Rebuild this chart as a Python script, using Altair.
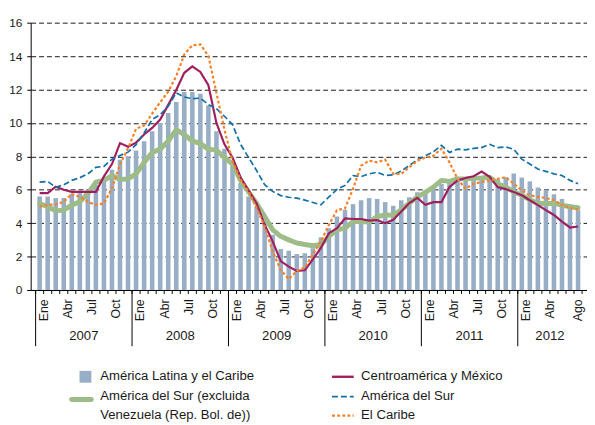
import altair as alt
import pandas as pd

# ---------------- data ----------------
months_es = ['Ene', 'Feb', 'Mar', 'Abr', 'May', 'Jun', 'Jul', 'Ago', 'Sep', 'Oct', 'Nov', 'Dic']
years = ['2007', '2008', '2009', '2010', '2011', '2012']

name_alc = 'América Latina y el Caribe'
name_cam = 'Centroamérica y México'
name_adsx = 'América del Sur (excluida Venezuela (Rep. Bol. de))'
name_ads = 'América del Sur'
name_car = 'El Caribe'

# América Latina y el Caribe (bars), Jan 2007 - Aug 2012
alc = [5.6, 5.6, 5.5, 5.5, 5.75, 5.8, 6.0, 6.3, 6.6, 7.2, 7.8, 8.0,
       8.35, 8.9, 9.5, 10.0, 10.6, 11.25, 11.85, 11.85, 11.75, 11.05, 9.5, 8.45,
       7.5, 6.4, 5.6, 5.0, 4.1, 3.3, 2.45, 2.35, 2.15, 2.2, 2.5, 3.15,
       3.7, 4.4, 4.8, 5.14, 5.37, 5.5, 5.45, 5.26, 5.04, 5.37, 5.55, 5.85,
       5.96, 6.2, 6.36, 6.45, 6.55, 6.65, 6.7, 6.8, 6.7, 6.6, 6.75, 6.97,
       6.73, 6.5, 6.14, 5.98, 5.73, 5.45, 5.12, 4.78]

# Centroamérica y México
cam = [5.8, 5.8, 6.18, 6.0, 5.87, 5.87, 5.87, 5.87, 6.8, 7.54, 8.79, 8.57,
       8.82, 9.31, 9.7, 10.2, 11.08, 11.97, 13.0, 13.39, 13.05, 12.26, 10.0, 8.72,
       7.93, 6.75, 5.96, 5.18, 3.9, 2.91, 1.73, 1.4, 1.14, 1.18, 1.83, 2.52,
       3.4, 3.7, 4.29, 4.25, 4.25, 4.15, 4.19, 4.0, 4.2, 4.7, 5.2, 5.51,
       5.1, 5.26, 5.26, 6.16, 6.56, 6.7, 6.81, 7.09, 6.77, 6.16, 6.04, 5.87,
       5.67, 5.37, 5.08, 4.78, 4.49, 4.09, 3.74, 3.8]

# América del Sur
ads = [6.46, 6.5, 6.14, 6.3, 6.56, 6.72, 6.95, 7.34, 7.4, 7.83, 8.05, 8.25,
       8.7, 9.4, 10.2, 10.5, 11.0, 11.8, 11.55, 11.45, 11.48, 11.1, 10.85, 10.4,
       9.9, 8.72, 7.93, 7.15, 6.3, 5.9, 5.65, 5.55, 5.5, 5.38, 5.24, 5.1,
       5.57, 6.02, 6.26, 6.85, 6.79, 6.95, 7.05, 6.85, 6.89, 7.12, 7.45, 7.8,
       8.03, 8.27, 8.66, 8.23, 8.43, 8.39, 8.48, 8.52, 8.72, 8.52, 8.56, 8.43,
       7.83, 7.54, 7.24, 7.1, 6.95, 6.85, 6.56, 6.36]

# América del Sur (excluida Venezuela)
adsx = [5.18, 4.98, 4.74, 4.78, 5.08, 5.28, 5.77, 6.46, 6.56, 6.85, 6.61, 6.65,
        6.95, 7.64, 8.23, 8.43, 8.92, 9.6, 9.3, 8.92, 8.76, 8.43, 8.37, 7.93,
        7.54, 6.56, 5.87, 5.18, 4.39, 3.6, 3.21, 3.0, 2.81, 2.72, 2.65, 2.72,
        3.21, 3.6, 3.7, 4.09, 4.09, 4.06, 4.39, 4.49, 4.48, 4.8, 5.2, 5.57,
        5.83, 6.16, 6.56, 6.5, 6.65, 6.65, 6.69, 6.71, 6.75, 6.36, 6.16, 5.87,
        5.67, 5.41, 5.18, 5.18, 5.18, 5.08, 4.98, 4.92]

# El Caribe
car = [4.98, 5.1, 5.12, 5.28, 5.75, 5.57, 5.28, 5.1, 5.18, 6.1, 7.5, 8.48,
       9.65, 9.85, 10.55, 11.23, 11.87, 12.8, 14.1, 14.65, 14.7, 14.0, 11.8, 9.6,
       7.7, 6.6, 5.9, 4.9, 3.8, 2.3, 1.2, 0.65, 1.14, 1.34, 2.13, 2.91,
       3.9, 4.78, 4.88, 6.06, 7.44, 7.74, 7.64, 7.8, 6.95, 6.95, 7.34, 7.74,
       7.93, 8.03, 8.46, 7.64, 6.65, 6.06, 6.36, 6.46, 6.56, 6.65, 6.75, 6.36,
       5.96, 5.67, 5.57, 5.51, 5.37, 5.08, 4.92, 4.82]

y_ticks = [0, 2, 4, 6, 8, 10, 12, 14, 16]

# ---------------- derived tables ----------------
n = len(alc)
df = pd.DataFrame({'i': list(range(n)), 'alc': alc, 'cam': cam, 'ads': ads,
                   'adsx': adsx, 'car': car})

starts = [12 * k for k in range(len(years))]
ends = [min(s + 11, n - 1) for s in starts]
years_df = pd.DataFrame({'year': years,
                         'mid': [(s + e) / 2 for s, e in zip(starts, ends)],
                         'sep': [s - 0.5 for s in starts]})
ticks_df = pd.DataFrame({'b': [i - 0.5 for i in range(n + 1)]})

label_vals = [m for m in range(n) if m % 3 == 0 and m < starts[-1]] + [starts[-1], starts[-1] + 3, n - 1]
month_expr = "[" + ",".join("'%s'" % m for m in months_es) + "][datum.value % 12]"

# ---------------- styling ----------------
W, H = 564, 271
FONT = 'Liberation Sans'
TXT = '#1a1a1a'
C_BAR = '#97AEC6'
C_CAM = '#A0205F'
C_ADS = '#1170A8'
C_ADSX = '#9DBC87'
C_CAR = '#F5822A'

xscale = alt.Scale(domain=[-0.5, n - 0.5], nice=False, zero=False)
yscale = alt.Scale(domain=[0, 16], nice=False, zero=True)

xaxis = alt.Axis(values=label_vals, labelExpr=month_expr, labelAngle=270,
                 labelAlign='right', labelBaseline='middle', labelPadding=9,
                 labelOffset={'condition': {'test': 'datum.value == %d' % (n - 1), 'value': -1}, 'value': 4},
                 ticks=False, grid=False, domainColor='black',
                 domainWidth=1, labelFont=FONT, labelFontSize=12.5,
                 labelColor=TXT, labelOverlap=False, title=None)
yaxis = alt.Axis(values=y_ticks, grid=True, gridColor='#1a1a1a', gridDash=[5, 3],
                 gridWidth=1, domainColor='black', domainWidth=1,
                 tickColor='black', tickSize=4, labelFont=FONT,
                 labelFontSize=12, labelColor=TXT, labelPadding=5, title=None)

X = alt.X('i:Q', scale=xscale, axis=xaxis)

bars = alt.Chart(df).mark_bar(size=4.6, color=C_BAR).encode(
    x=X, y=alt.Y('alc:Q', scale=yscale, axis=yaxis))


def series_line(col, **style):
    return alt.Chart(df).mark_line(**style).encode(
        x=X, y=alt.Y(col + ':Q', scale=yscale, axis=yaxis))


l_adsx = series_line('adsx', color=C_ADSX, strokeWidth=5, strokeJoin='round', strokeCap='round')
l_cam = series_line('cam', color=C_CAM, strokeWidth=2.2)
l_ads = series_line('ads', color=C_ADS, strokeWidth=1.7, strokeDash=[6, 3])
l_car = series_line('car', color=C_CAR, strokeWidth=2.2, strokeDash=[3, 2.2])

month_ticks = alt.Chart(ticks_df).mark_rule(color='black', strokeWidth=1).encode(
    x=alt.X('b:Q', scale=xscale, axis=xaxis), y=alt.value(H), y2=alt.value(H + 4))

year_seps = alt.Chart(years_df).mark_rule(color='black', strokeWidth=1).encode(
    x=alt.X('sep:Q', scale=xscale, axis=xaxis), y=alt.value(H), y2=alt.value(H + 57))

year_labels = alt.Chart(years_df).mark_text(
    font=FONT, fontSize=13.3, color=TXT, baseline='middle', align='center').encode(
    x=alt.X('mid:Q', scale=xscale, axis=xaxis), y=alt.value(H + 47), text='year:N')


# ---------------- legend ----------------
def legend_text(txt, x, y):
    return alt.Chart(pd.DataFrame({'t': [txt]})).mark_text(
        align='left', baseline='middle', font=FONT, fontSize=13.3, color=TXT).encode(
        x=alt.value(x), y=alt.value(y), text='t:N')


def legend_line(x1, x2, y, **style):
    return alt.Chart(pd.DataFrame({'t': [0]})).mark_rule(**style).encode(
        x=alt.value(x1), x2=alt.value(x2), y=alt.value(y))


split_at = name_adsx.index('Venezuela')
adsx_l1 = name_adsx[:split_at].strip()
adsx_l2 = name_adsx[split_at:]

LX1, LX2 = 70.5, 335
R1, R2, R3 = 358.5, 378.5, 397.5

legend = [
    alt.Chart(pd.DataFrame({'t': [0]})).mark_square(size=144, color=C_BAR, opacity=1).encode(
        x=alt.value(55.5), y=alt.value(R1 + 0.5)),
    legend_text(name_alc, LX1, R1),
    legend_line(41.5, 61.5, R2 + 3.5, color=C_ADSX, strokeWidth=5, strokeCap='round'),
    legend_text(adsx_l1, LX1, R2),
    legend_text(adsx_l2, LX1, R3),
    legend_line(305.5, 327.5, R1 + 0.5, color=C_CAM, strokeWidth=2.4),
    legend_text(name_cam, LX2, R1),
    legend_line(305.5, 327.5, R2 + 0.5, color=C_ADS, strokeWidth=1.8, strokeDash=[6, 3]),
    legend_text(name_ads, LX2, R2),
    legend_line(305.5, 327.5, R3 + 0.8, color=C_CAR, strokeWidth=2.2, strokeDash=[3, 2.2]),
    legend_text(name_car, LX2, R3),
]

chart = alt.layer(
    bars, l_adsx, l_cam, l_ads, l_car, month_ticks, year_seps, year_labels, *legend
).properties(
    width=W, height=H,
    padding={'left': 23, 'top': 12, 'right': 0, 'bottom': 134},
    autosize=alt.AutoSizeParams(type='none'),
    background='white',
).configure_view(stroke=None)

chart.save('out.html', embed_options={'renderer': 'svg', 'actions': False})
